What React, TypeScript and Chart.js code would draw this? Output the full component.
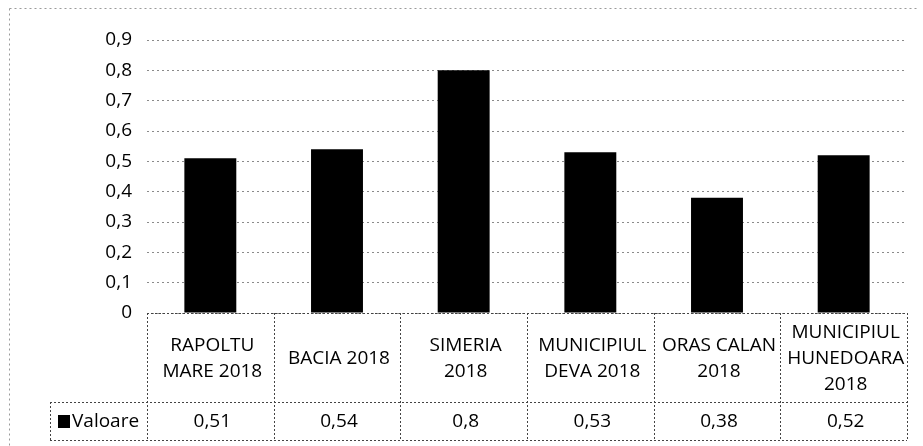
import React, { useEffect, useRef } from "react";
import { Chart, registerables } from "chart.js";

Chart.register(...registerables);

const categories: string[][] = [
  ["RAPOLTU", "MARE 2018"],
  ["BACIA 2018"],
  ["SIMERIA", "2018"],
  ["MUNICIPIUL", "DEVA 2018"],
  ["ORAS CALAN", "2018"],
  ["MUNICIPIUL", "HUNEDOARA", "2018"],
];
const values: number[] = [0.51, 0.54, 0.8, 0.53, 0.38, 0.52];
const seriesName = "Valoare";
const yTicks: string[] = ["0", "0,1", "0,2", "0,3", "0,4", "0,5", "0,6", "0,7", "0,8", "0,9"];

const FONT = "'Open Sans', 'DejaVu Sans', sans-serif";
const fmt = (v: number) => String(v).replace(".", ",");

const tablePlugin = {
  id: "dataTable",
  afterDraw(chart: any) {
    const ctx = chart.ctx as CanvasRenderingContext2D;
    const area = chart.chartArea;
    const x = chart.scales.x;
    const n = categories.length;
    const top = area.bottom;
    const mid = 402;
    const bot = 440;
    const legLeft = 50;
    const step = (area.right - area.left) / n;

    ctx.save();
    ctx.strokeStyle = "#9a9a9a";
    ctx.lineWidth = 1;
    ctx.setLineDash([2, 3]);
    ctx.beginPath();
    ctx.moveTo(9.5, 8.5);
    ctx.lineTo(918, 8.5);
    ctx.moveTo(9.5, 8.5);
    ctx.lineTo(9.5, 446);
    ctx.stroke();

    ctx.strokeStyle = "#444";
    ctx.setLineDash([2, 2]);
    ctx.beginPath();
    ctx.moveTo(area.left, top + 0.5);
    ctx.lineTo(area.right, top + 0.5);
    ctx.moveTo(legLeft, mid + 0.5);
    ctx.lineTo(area.right, mid + 0.5);
    ctx.moveTo(legLeft, bot + 0.5);
    ctx.lineTo(area.right, bot + 0.5);
    ctx.moveTo(legLeft + 0.5, mid);
    ctx.lineTo(legLeft + 0.5, bot);
    for (let i = 0; i <= n; i++) {
      const xx = Math.round(area.left + i * step) + 0.5;
      ctx.moveTo(xx, top);
      ctx.lineTo(xx, bot);
    }
    ctx.stroke();
    ctx.setLineDash([]);

    ctx.fillStyle = "#000";
    ctx.font = `19px ${FONT}`;
    ctx.textAlign = "center";
    ctx.textBaseline = "middle";
    const lh = 26;
    const labelCenter = (top + mid) / 2 + 1;
    for (let i = 0; i < n; i++) {
      const cx = x.getPixelForValue(i) + 2;
      const lines = categories[i];
      const y0 = labelCenter - ((lines.length - 1) * lh) / 2;
      lines.forEach((ln, j) => ctx.fillText(ln, cx, y0 + j * lh));
      ctx.fillText(fmt(values[i]), cx, (mid + bot) / 2 + 1);
    }
    ctx.fillRect(58, 415, 12, 13);
    ctx.textAlign = "left";
    ctx.fillText(seriesName, 72, (mid + bot) / 2 + 1);
    ctx.restore();
  },
};

export default function App() {
  const ref = useRef<HTMLCanvasElement | null>(null);
  useEffect(() => {
    document.body.style.margin = "0";
    const canvas = ref.current!;
    const chart = new Chart(canvas, {
      type: "bar",
      data: {
        labels: categories.map((c) => c.join(" ")),
        datasets: [
          {
            label: seriesName,
            data: values,
            backgroundColor: "#000",
            borderWidth: 0,
            barPercentage: 0.41,
            categoryPercentage: 1,
          },
        ],
      },
      options: {
        responsive: false,
        animation: false,
        devicePixelRatio: 1,
        layout: { padding: { left: 0, right: 16, top: 40, bottom: 133 } },
        plugins: { legend: { display: false }, tooltip: { enabled: false } },
        scales: {
          x: { display: false, offset: true },
          y: {
            min: 0,
            max: 0.9,
            afterFit: (axis: any) => {
              axis.width = 147;
            },
            ticks: {
              stepSize: 0.1,
              padding: 15,
              color: "#000",
              font: { family: FONT, size: 19 },
              callback: (_v: any, i: number) => yTicks[i],
            },
            grid: { color: "#8a8a8a", drawTicks: false },
            border: { display: false, dash: [2, 3] },
          },
        },
      },
      plugins: [tablePlugin],
    });
    return () => chart.destroy();
  }, []);
  return <canvas ref={ref} width={923} height={446} style={{ display: "block" }} />;
}
